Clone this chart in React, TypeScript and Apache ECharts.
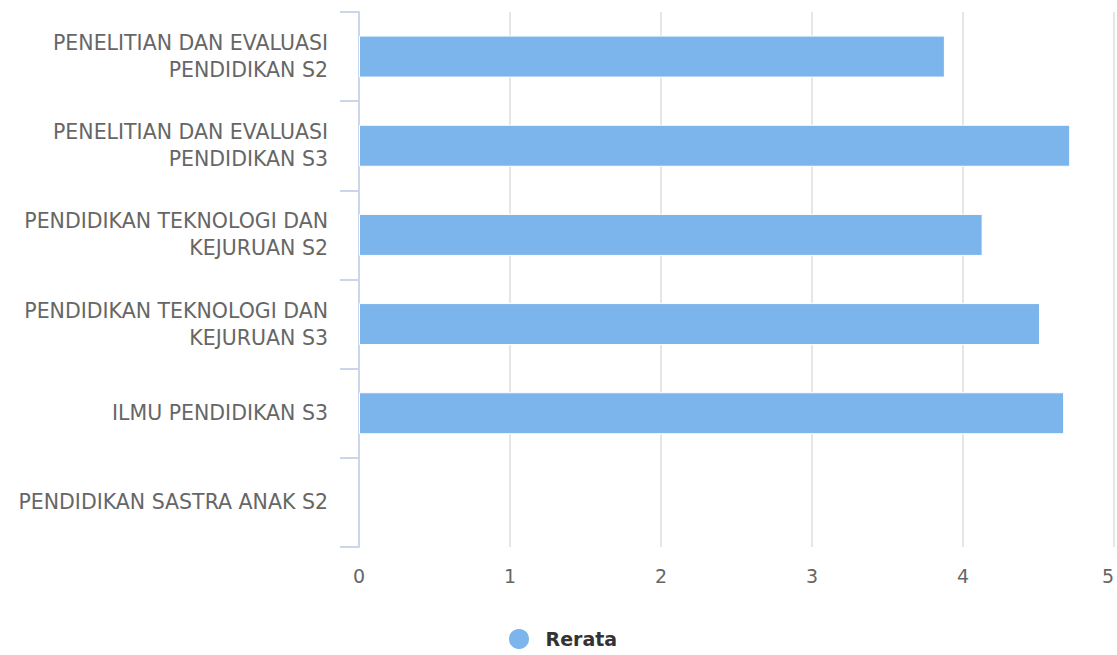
import React, { useEffect, useRef } from "react";
import * as echarts from "echarts";

const categories = [
  "PENELITIAN DAN EVALUASI PENDIDIKAN S2",
  "PENELITIAN DAN EVALUASI PENDIDIKAN S3",
  "PENDIDIKAN TEKNOLOGI DAN KEJURUAN S2",
  "PENDIDIKAN TEKNOLOGI DAN KEJURUAN S3",
  "ILMU PENDIDIKAN S3",
  "PENDIDIKAN SASTRA ANAK S2",
];
const rerata: (number | null)[] = [3.88, 4.71, 4.13, 4.51, 4.67, null];
const seriesName = "Rerata";
const xMin = 0;
const xMax = 5;
const xInterval = 1;

function wrapLabel(s: string, maxChars: number): string {
  const words = s.split(" ");
  const lines: string[] = [];
  let cur = "";
  for (const w of words) {
    const next = cur ? cur + " " + w : w;
    if (next.length > maxChars && cur) {
      lines.push(cur);
      cur = w;
    } else {
      cur = next;
    }
  }
  if (cur) lines.push(cur);
  return lines.join("\n");
}

export default function App() {
  const ref = useRef<HTMLDivElement>(null);
  useEffect(() => {
    if (!ref.current) return;
    const chart = echarts.init(ref.current, undefined, { renderer: "svg" });
    const font = "'DejaVu Sans', Verdana, sans-serif";
    chart.setOption({
      animation: false,
      textStyle: { fontFamily: font },
      grid: {
        left: 359,
        right: 3,
        top: 12,
        bottom: 108,
        containLabel: false,
        outerBoundsMode: "none",
      },
      legend: {
        data: [{ name: seriesName, icon: "circle" }],
        left: 507,
        top: 627,
        padding: 0,
        itemWidth: 23,
        itemHeight: 22,
        textStyle: {
          fontSize: 19,
          fontWeight: "bold",
          color: "#333",
          fontFamily: font,
          padding: [2, 0, 0, 10],
        },
      },
      xAxis: {
        type: "value",
        min: xMin,
        max: xMax,
        interval: xInterval,
        axisLine: { show: false },
        axisTick: { show: false },
        splitLine: { show: true, lineStyle: { color: "#e6e6e6", width: 2 } },
        axisLabel: {
          color: "#666",
          fontSize: 19,
          margin: 19,
          fontFamily: font,
          alignMaxLabel: "right",
        },
      },
      yAxis: {
        type: "category",
        inverse: true,
        data: categories,
        axisLine: { show: true, lineStyle: { color: "#ccd6eb", width: 2 } },
        axisTick: { show: true, length: 19, lineStyle: { color: "#ccd6eb", width: 2 } },
        splitLine: { show: false },
        axisLabel: {
          color: "#666",
          fontSize: 20.5,
          lineHeight: 27,
          margin: 31,
          fontFamily: font,
          formatter: (v: string) => wrapLabel(v, 25),
        },
      },
      series: [
        {
          name: seriesName,
          type: "bar",
          data: rerata,
          barWidth: 42,
          itemStyle: { color: "#7cb5ec", borderColor: "#ffffff", borderWidth: 1 },
        },
      ],
    });
    return () => chart.dispose();
  }, []);
  return (
    <div
      ref={ref}
      style={{ position: "fixed", left: 0, top: 0, width: 1117, height: 655, background: "#fff" }}
    />
  );
}
